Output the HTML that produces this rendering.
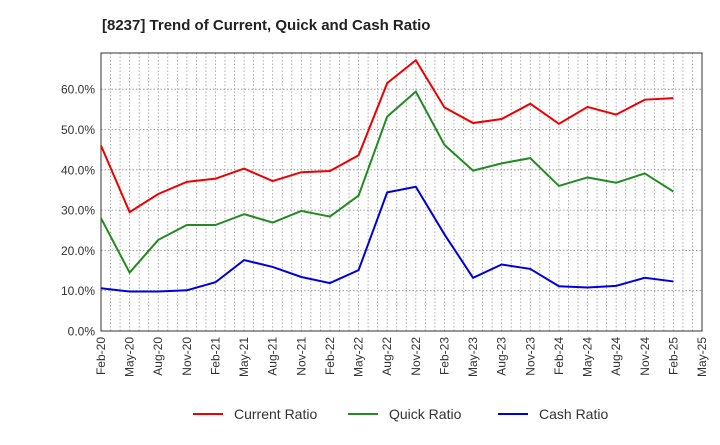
<!DOCTYPE html>
<html><head><meta charset="utf-8"><style>
body{margin:0;background:#fff;font-family:"Liberation Sans",sans-serif}
</style></head><body>
<svg width="720" height="440" xmlns="http://www.w3.org/2000/svg">
<text x="102" y="30" font-size="15" font-weight="bold" fill="#222">[8237]  Trend of Current, Quick and Cash Ratio</text>
<g id="grid"></g><g id="axes"></g><g id="series"></g>
<g id="legend"></g>
</svg>
<script>
const labels=["Feb-20","May-20","Aug-20","Nov-20","Feb-21","May-21","Aug-21","Nov-21","Feb-22","May-22","Aug-22","Nov-22","Feb-23","May-23","Aug-23","Nov-23","Feb-24","May-24","Aug-24","Nov-24","Feb-25","May-25"];
const current=[46,29.5,34,37,37.8,40.3,37.2,39.4,39.7,43.6,61.5,67.2,55.5,51.6,52.6,56.4,51.4,55.6,53.7,57.4,57.8];
const quick=[28,14.5,22.6,26.3,26.3,29,26.9,29.8,28.4,33.6,53.2,59.4,46.2,39.8,41.6,42.9,36,38.1,36.8,39.1,34.6];
const cash=[10.6,9.8,9.8,10.1,12.1,17.6,15.9,13.4,11.9,15.1,34.4,35.8,24,13.2,16.5,15.4,11.1,10.8,11.2,13.2,12.3];
const yTicks=[0,10,20,30,40,50,60];
const L=101,R=702,T=53,B=331;
const x=i=>L+i*(R-L)/21;
const y=v=>B-v*4.03;
const NS="http://www.w3.org/2000/svg";
function mk(p,tag,a){const e=document.createElementNS(NS,tag);for(const k in a)e.setAttribute(k,a[k]);document.getElementById(p).appendChild(e);return e;}
for(let m=1;m<63;m++){const xx=L+m*(R-L)/63;const g=mk('grid','line',{x1:xx,x2:xx,y1:T,y2:B,stroke:'#999','stroke-dasharray':'1.5,2','stroke-width':0.8});

}
yTicks.forEach(v=>{if(v>0){const g=mk('grid','line',{x1:L,x2:R,y1:y(v),y2:y(v),stroke:'#888','stroke-dasharray':'1.5,2','stroke-width':0.8});

}
const t=mk('axes','text',{x:L-6,y:y(v)+4.5,'text-anchor':'end','font-size':12,fill:'#333'});t.textContent=v.toFixed(1)+'%';

});
const fr=mk('axes','rect',{x:L,y:T,width:R-L,height:B-T,fill:'none',stroke:'#333','stroke-width':1});


labels.forEach((s,i)=>{const t=mk('axes','text',{transform:`translate(${x(i)+4},${B+6}) rotate(-90)`,'text-anchor':'end','font-size':12,fill:'#333'});t.textContent=s;

});
[[current,'#e00','current-ratio-line'],[quick,'#228B22','quick-ratio-line'],[cash,'#00d','cash-ratio-line']].forEach(([d,c,n])=>{
const p=mk('series','polyline',{points:d.map((v,i)=>x(i)+','+y(v)).join(' '),fill:'none',stroke:c,'stroke-width':2});

});
[['Current Ratio','#e00',193],['Quick Ratio','#228B22',348],['Cash Ratio','#00d',498]].forEach(([s,c,lx])=>{
const l=mk('legend','line',{x1:lx,x2:lx+30,y1:414,y2:414,stroke:c,'stroke-width':2});


const t=mk('legend','text',{x:lx+41,y:419,'font-size':14,fill:'#333'});t.textContent=s;

});
</script>
</body></html>
